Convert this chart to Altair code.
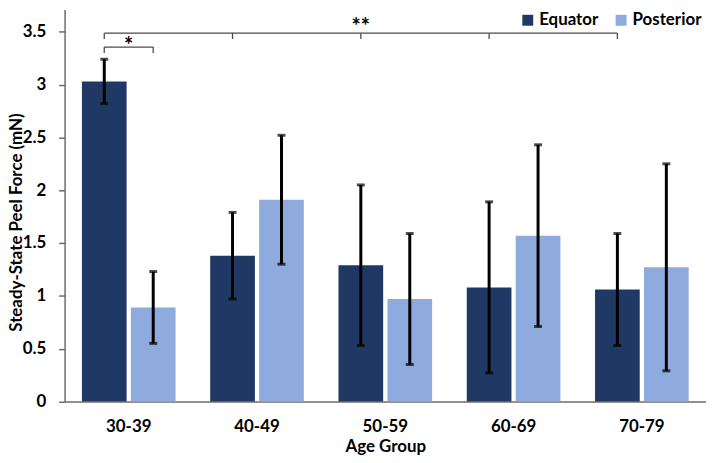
import altair as alt
import pandas as pd

groups = ["30-39", "40-49", "50-59", "60-69", "70-79"]
series = ["Equator", "Posterior"]
equator_mean = [3.03, 1.38, 1.29, 1.08, 1.06]
equator_err = [0.21, 0.41, 0.76, 0.81, 0.53]
posterior_mean = [0.89, 1.91, 0.97, 1.57, 1.27]
posterior_err = [0.34, 0.61, 0.62, 0.86, 0.98]
colors = ["#203864", "#8FAADC"]
y_ticks = [0, 0.5, 1, 1.5, 2, 2.5, 3, 3.5]

# significance brackets
sig_single_groups = ["30-39"]
sig_single_y = 3.355
sig_double_groups = groups
sig_double_y = 3.487
bracket_drop = 0.055

rows = []
for i, g in enumerate(groups):
    rows.append({"group": g, "series": "Equator", "mean": equator_mean[i],
                 "lo": equator_mean[i] - equator_err[i], "hi": equator_mean[i] + equator_err[i]})
    rows.append({"group": g, "series": "Posterior", "mean": posterior_mean[i],
                 "lo": posterior_mean[i] - posterior_err[i], "hi": posterior_mean[i] + posterior_err[i]})
df = pd.DataFrame(rows)

FONT = "Lato"
xscale = alt.Scale(domain=groups, paddingInner=0.27, paddingOuter=0.135)
xoscale = alt.Scale(domain=series, paddingInner=0.087, paddingOuter=0)
yscale = alt.Scale(domain=[0, 3.71], nice=False, zero=True)

x_enc = alt.X("group:N", scale=xscale, sort=groups,
              axis=alt.Axis(title="Age Group", labelAngle=0, ticks=False, labelPadding=17,
                            titlePadding=4, labelFontSize=17, titleFontSize=17))
y_enc = alt.Y("mean:Q", scale=yscale,
              axis=alt.Axis(title="Steady-State Peel Force (mN)", values=y_ticks, format="~g",
                            grid=False, tickSize=6, labelPadding=13, titleX=-39, titleY=214,
                            labelFontSize=17, titleFontSize=17))

bars = alt.Chart(df).mark_bar().encode(
    x=x_enc,
    xOffset=alt.XOffset("series:N", scale=xoscale, sort=series),
    y=y_enc,
    color=alt.Color("series:N", scale=alt.Scale(domain=series, range=colors),
                    legend=alt.Legend(title=None, orient="none", direction="horizontal",
                                      legendX=458, legendY=2, symbolType="square",
                                      symbolSize=121, symbolStrokeWidth=0,
                                      labelFontSize=17, labelFont=FONT, labelFontWeight="bold",
                                      labelColor="black", columnPadding=14, labelOffset=3,
                                      labelLimit=300, padding=0)),
)

err_rule = alt.Chart(df).mark_rule(color="black", strokeWidth=3).encode(
    x=alt.X("group:N", scale=xscale, sort=groups),
    xOffset=alt.XOffset("series:N", scale=xoscale, sort=series),
    y=alt.Y("lo:Q", scale=yscale),
    y2="hi:Q",
)
cap_lo = alt.Chart(df).mark_tick(color="black", thickness=3, size=8).encode(
    x=alt.X("group:N", scale=xscale, sort=groups),
    xOffset=alt.XOffset("series:N", scale=xoscale, sort=series),
    y=alt.Y("lo:Q", scale=yscale),
)
cap_hi = alt.Chart(df).mark_tick(color="black", thickness=3, size=8).encode(
    x=alt.X("group:N", scale=xscale, sort=groups),
    xOffset=alt.XOffset("series:N", scale=xoscale, sort=series),
    y=alt.Y("hi:Q", scale=yscale),
)

# bracket ticks
tick_rows = []
for s in series:
    tick_rows.append({"group": sig_single_groups[0], "series": s,
                      "top": sig_single_y, "bot": sig_single_y - bracket_drop})
for g in sig_double_groups:
    tick_rows.append({"group": g, "series": "Equator",
                      "top": sig_double_y, "bot": sig_double_y - bracket_drop})
tdf = pd.DataFrame(tick_rows)
bracket_ticks = alt.Chart(tdf).mark_rule(color="#4a4a4a", strokeWidth=1.3).encode(
    x=alt.X("group:N", scale=xscale, sort=groups),
    xOffset=alt.XOffset("series:N", scale=xoscale, sort=series),
    y=alt.Y("top:Q", scale=yscale),
    y2="bot:Q",
)

half = 24.65
line1 = alt.Chart(pd.DataFrame([{"g1": "30-39", "g2": "30-39", "y": sig_single_y}])).mark_rule(
    color="#4a4a4a", strokeWidth=1.3, xOffset=-half, x2Offset=half).encode(
    x=alt.X("g1:N", scale=xscale, sort=groups), x2="g2:N", y=alt.Y("y:Q", scale=yscale))
line2 = alt.Chart(pd.DataFrame([{"g1": groups[0], "g2": groups[-1], "y": sig_double_y}])).mark_rule(
    color="#4a4a4a", strokeWidth=1.3, xOffset=-half, x2Offset=-half).encode(
    x=alt.X("g1:N", scale=xscale, sort=groups), x2="g2:N", y=alt.Y("y:Q", scale=yscale))

star1 = alt.Chart(pd.DataFrame([{"group": "30-39", "y": 3.30, "t": "*"}])).mark_text(
    font=FONT, fontWeight="bold", fontSize=22, baseline="alphabetic", color="black").encode(
    x=alt.X("group:N", scale=xscale, sort=groups), y=alt.Y("y:Q", scale=yscale), text="t:N")
star2 = alt.Chart(pd.DataFrame([{"group": "50-59", "series": "Equator", "y": 3.48, "t": "**"}])).mark_text(
    font=FONT, fontWeight="bold", fontSize=22, baseline="alphabetic", color="black").encode(
    x=alt.X("group:N", scale=xscale, sort=groups),
    xOffset=alt.XOffset("series:N", scale=xoscale, sort=series),
    y=alt.Y("y:Q", scale=yscale), text="t:N")

chart = alt.layer(bars, err_rule, cap_lo, cap_hi, bracket_ticks, line1, line2, star1, star2).properties(
    width=646, height=394.7,
    autosize=alt.AutoSizeParams(type="none"),
    padding={"left": 57, "top": 0, "right": 0, "bottom": 55},
).configure_view(stroke=None).configure_axis(
    labelFont=FONT, titleFont=FONT, labelFontWeight="bold", titleFontWeight="bold",
    labelColor="black", titleColor="black", domainColor="#6b6b6b", domainWidth=1.5,
    tickColor="#6b6b6b", tickWidth=1.5,
)

chart.save("out.html", embed_options={"renderer": "svg", "actions": False})
